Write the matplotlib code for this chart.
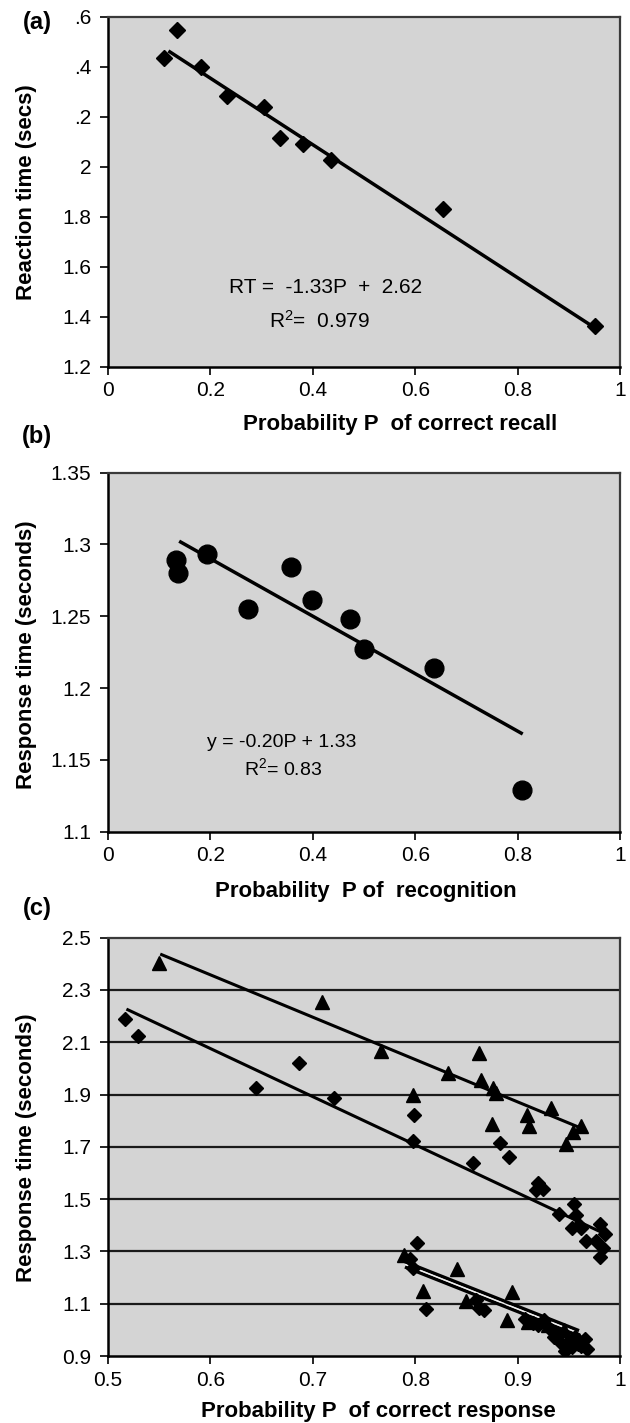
import matplotlib
matplotlib.use("Agg")
import matplotlib.pyplot as plt
import numpy as np

plt.rcParams['font.family'] = ['Liberation Sans', 'DejaVu Sans']
plt.rcParams['mathtext.fontset'] = 'custom'
plt.rcParams['mathtext.rm'] = 'Liberation Sans'
plt.rcParams['mathtext.default'] = 'rm'

W, H = 630, 1423

# (a) recall
recall_p = [0.110, 0.134, 0.181, 0.233, 0.304, 0.335, 0.380, 0.436, 0.654, 0.952]
recall_rt = [2.433, 2.547, 2.400, 2.283, 2.240, 2.113, 2.091, 2.027, 1.829, 1.363]
recall_fit = (-1.33, 2.62)
recall_span = (0.118, 0.95)
recall_yticks = [1.2, 1.4, 1.6, 1.8, 2.0, 2.2, 2.4, 2.6]
recall_ylabels = ['1.2', '1.4', '1.6', '1.8', '2', '.2', '.4', '.6']

# (b) recognition
recog_p = [0.133, 0.137, 0.193, 0.274, 0.358, 0.398, 0.473, 0.500, 0.636, 0.809]
recog_rt = [1.289, 1.280, 1.293, 1.255, 1.284, 1.261, 1.248, 1.227, 1.214, 1.129]
recog_fit = (-0.20, 1.33)
recog_span = (0.139, 0.81)
recog_yticks = [1.1, 1.15, 1.2, 1.25, 1.3, 1.35]
recog_ylabels = ['1.1', '1.15', '1.2', '1.25', '1.3', '1.35']

# (c) correct response, three conditions
tri_p = [0.550, 0.709, 0.767, 0.832, 0.862, 0.864, 0.876, 0.879, 0.798, 0.933,
         0.909, 0.911, 0.875, 0.962, 0.954, 0.947]
tri_rt = [2.402, 2.255, 2.065, 1.983, 2.060, 1.954, 1.925, 1.905, 1.897, 1.850,
          1.820, 1.780, 1.787, 1.780, 1.755, 1.709]
dia_p = [0.517, 0.529, 0.645, 0.687, 0.721, 0.799, 0.798, 0.856, 0.883, 0.892,
         0.920, 0.925, 0.918, 0.940, 0.955, 0.957, 0.960, 0.953, 0.962, 0.980,
         0.985, 0.977, 0.983, 0.980, 0.967]
dia_rt = [2.188, 2.125, 1.925, 2.019, 1.885, 1.822, 1.722, 1.640, 1.713, 1.661,
          1.560, 1.540, 1.534, 1.443, 1.480, 1.440, 1.400, 1.390, 1.390, 1.404,
          1.365, 1.339, 1.313, 1.280, 1.340]
low_dia_p = [0.802, 0.795, 0.798, 0.811, 0.859, 0.862, 0.867, 0.907, 0.915, 0.920,
             0.926, 0.933, 0.936, 0.943, 0.946, 0.953, 0.959, 0.966, 0.968, 0.950,
             0.940, 0.956, 0.962]
low_dia_rt = [1.332, 1.270, 1.235, 1.079, 1.116, 1.083, 1.076, 1.040, 1.025, 1.018,
              1.037, 0.998, 0.972, 0.946, 0.920, 0.933, 0.946, 0.965, 0.926, 0.959,
              0.985, 0.972, 0.940]
low_tri_p = [0.789, 0.841, 0.808, 0.895, 0.890, 0.850, 0.930, 0.945, 0.960, 0.910]
low_tri_rt = [1.287, 1.233, 1.148, 1.144, 1.037, 1.110, 1.020, 1.000, 0.960, 1.030]
upper_fits = [(-1.62, 3.33, 0.551, 0.964),
              (-1.84, 3.18, 0.518, 0.986)]
lower_fits = [(-1.55, 2.485, 0.79, 0.96),
              (-1.55, 2.465, 0.79, 0.96)]
resp_yticks = [0.9, 1.1, 1.3, 1.5, 1.7, 1.9, 2.1, 2.3, 2.5]
resp_xticks = [0.5, 0.6, 0.7, 0.8, 0.9, 1.0]

fig = plt.figure(figsize=(W / 100, H / 100), dpi=100)


def px_axes(left, top, right, bottom):
    return fig.add_axes([left / W, 1 - bottom / H, (right - left) / W, (bottom - top) / H])


def px_text(x, y, s, **kw):
    fig.text(x / W, 1 - y / H, s, **kw)


def style(ax):
    ax.set_facecolor('#d4d4d4')
    for side in ['left', 'bottom']:
        ax.spines[side].set_color('black')
        ax.spines[side].set_linewidth(1.8)
    for side in ['top', 'right']:
        ax.spines[side].set_color('#3a3a3a')
        ax.spines[side].set_linewidth(1.6)
    ax.tick_params(direction='out', length=6, width=1.2, labelsize=15, colors='black')
    ax.tick_params(axis='y', pad=6)
    ax.tick_params(axis='x', pad=4.5)


def fit_line(ax, slope, icpt, x0, x1, lw=2.5, color='black', z=3):
    xs = np.array([x0, x1])
    ax.plot(xs, slope * xs + icpt, color=color, lw=lw, zorder=z, solid_capstyle='butt')


# ---- (a)
ax1 = px_axes(108, 16.7, 620, 366.7)
style(ax1)
fit_line(ax1, recall_fit[0], recall_fit[1], *recall_span)
ax1.plot(recall_p, recall_rt, 'D', color='black', ms=8.5, zorder=4)
ax1.set_xlim(0, 1)
ax1.set_ylim(1.2, 2.6)
ax1.set_xticks([0, 0.2, 0.4, 0.6, 0.8, 1.0])
ax1.set_xticklabels(['0', '0.2', '0.4', '0.6', '0.8', '1'])
ax1.set_yticks(recall_yticks)
ax1.set_yticklabels(recall_ylabels)
ax1.text(0.425, 1.518, 'RT =  -1.33P  +  2.62', ha='center', va='center', fontsize=15)
ax1.text(0.413, 1.383, 'R$^2$=  0.979', ha='center', va='center', fontsize=15)

# ---- (b)
ax2 = px_axes(108, 472.5, 620, 831.7)
style(ax2)
fit_line(ax2, recog_fit[0], recog_fit[1], *recog_span)
ax2.plot(recog_p, recog_rt, 'o', color='black', ms=13.5, zorder=4)
ax2.set_xlim(0, 1)
ax2.set_ylim(1.1, 1.35)
ax2.set_xticks([0, 0.2, 0.4, 0.6, 0.8, 1.0])
ax2.set_xticklabels(['0', '0.2', '0.4', '0.6', '0.8', '1'])
ax2.set_yticks(recog_yticks)
ax2.set_yticklabels(recog_ylabels)
ax2.text(0.339, 1.162, 'y = -0.20P + 1.33', ha='center', va='center', fontsize=14)
ax2.text(0.342, 1.144, 'R$^2$= 0.83', ha='center', va='center', fontsize=14)

# ---- (c)
ax3 = px_axes(108, 937.7, 620, 1356)
style(ax3)
for v in resp_yticks[1:-1]:
    ax3.axhline(v, color='#1a1a1a', lw=1.6, zorder=1)
for slope, icpt, x0, x1 in upper_fits:
    fit_line(ax3, slope, icpt, x0, x1, lw=2.2)
for slope, icpt, x0, x1 in lower_fits:
    fit_line(ax3, slope, icpt, x0, x1, lw=2.4)
# light seam between the two near-identical lower fits
mid_icpt = np.mean([f[1] for f in lower_fits])
fit_line(ax3, lower_fits[0][0], mid_icpt, lower_fits[0][2], lower_fits[0][3],
         lw=0.9, color='#f0f0f0', z=3.5)
ax3.plot(tri_p, tri_rt, '^', color='black', ms=9.5, zorder=4)
ax3.plot(dia_p, dia_rt, 'D', color='black', ms=7.5, zorder=4)
ax3.plot(low_dia_p, low_dia_rt, 'D', color='black', ms=7.5, zorder=4)
ax3.plot(low_tri_p, low_tri_rt, '^', color='black', ms=9.5, zorder=4)
ax3.set_xlim(0.5, 1)
ax3.set_ylim(0.9, 2.5)
ax3.set_xticks(resp_xticks)
ax3.set_xticklabels(['0.5', '0.6', '0.7', '0.8', '0.9', '1'])
ax3.set_yticks(resp_yticks)
ax3.set_yticklabels(['%.1f' % v for v in resp_yticks])

# axis titles and panel letters
lab = dict(fontsize=16, fontweight='bold', ha='center', va='center')
px_text(400, 424, 'Probability P  of correct recall', **lab)
px_text(366, 891, 'Probability  P of  recognition', **lab)
px_text(378, 1411, 'Probability P  of correct response', **lab)
px_text(27, 192, 'Reaction time (secs)', rotation=90, **lab)
px_text(27, 655, 'Response time (seconds)', rotation=90, **lab)
px_text(27, 1148, 'Response time (seconds)', rotation=90, **lab)
px_text(37, 23, '(a)', fontsize=17, fontweight='bold', ha='center', va='center')
px_text(37, 437, '(b)', fontsize=17, fontweight='bold', ha='center', va='center')
px_text(37, 909, '(c)', fontsize=17, fontweight='bold', ha='center', va='center')

fig.savefig('out.png', dpi=100)
